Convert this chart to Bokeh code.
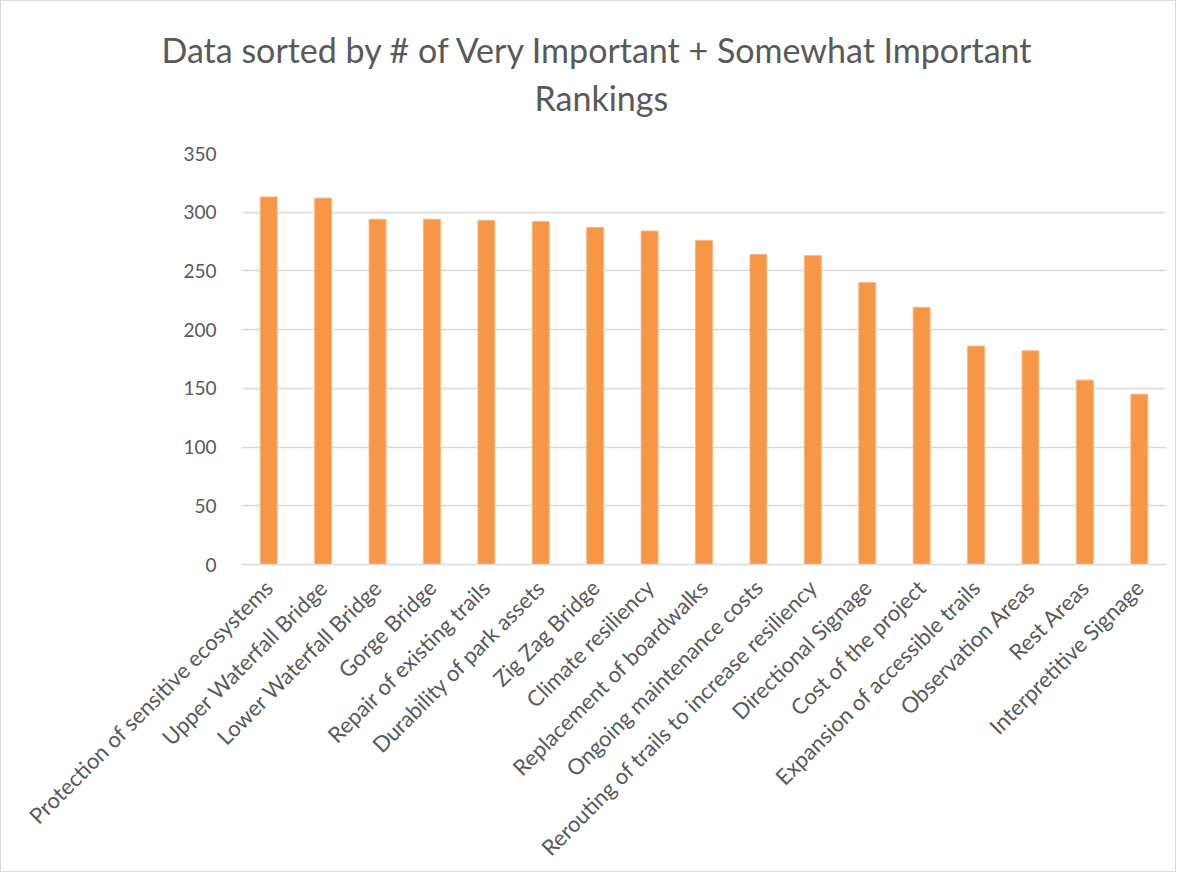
import math
from bokeh.plotting import figure
from bokeh.models import Range1d, Title, FactorRange
from bokeh.embed import file_html
from bokeh.resources import INLINE

categories = [
    "Protection of sensitive ecosystems", "Upper Waterfall Bridge", "Lower Waterfall Bridge",
    "Gorge Bridge", "Repair of existing trails", "Durability of park assets", "Zig Zag Bridge",
    "Climate resiliency", "Replacement of boardwalks", "Ongoing maintenance costs",
    "Rerouting of trails to increase resiliency", "Directional Signage", "Cost of the project",
    "Expansion of accessible trails", "Observation Areas", "Rest Areas", "Interpretitive Signage",
]
values = [313, 312, 294, 294, 293, 292, 287, 284, 276, 264, 263, 240, 219, 186, 182, 157, 145]
y_ticks = [0, 50, 100, 150, 200, 250, 300, 350]

FONT = "Lato"
GREY = "#595959"

p = figure(width=1176, height=872, x_range=FactorRange(*categories, range_padding=0),
           y_range=Range1d(0, 350), output_backend="svg", toolbar_location=None,
           min_border_left=240, min_border_right=11, min_border_top=152, min_border_bottom=308)
p.title = None
# spacer between the title block and the plot frame
p.add_layout(Title(text=" ", text_font_size="1px", standoff=30), "above")
p.add_layout(Title(text="Rankings", align="left", text_font=FONT, text_font_size="34px",
                   text_font_style="normal", text_color=GREY, offset=293, standoff=5), "above")
p.add_layout(Title(text="Data sorted by # of Very Important + Somewhat Important", align="left",
                   text_font=FONT, text_font_size="34px", text_font_style="normal",
                   text_color=GREY, offset=-80, standoff=5), "above")

p.vbar(x=categories, top=values, width=0.31, fill_color="#F79646", line_color="#F9B583", line_width=1)

p.outline_line_color = None
p.styles = {"border": "1px solid #D9D9D9"}
p.xgrid.grid_line_color = None
p.ygrid.grid_line_color = "#D9D9D9"
p.ygrid.grid_line_width = 1.5
p.yaxis.ticker = y_ticks
p.yaxis.axis_line_color = None
p.yaxis.major_tick_line_color = None
p.yaxis.minor_tick_line_color = None
p.yaxis.major_label_text_font = FONT
p.yaxis.major_label_text_font_size = "19px"
p.yaxis.major_label_text_color = GREY
p.yaxis.major_label_standoff = 19

p.xaxis.axis_line_color = "#D9D9D9"
p.xaxis.axis_line_width = 1.5
p.xaxis.major_tick_line_color = None
p.xaxis.minor_tick_line_color = None
p.xaxis.major_label_orientation = math.pi / 4
p.xaxis.major_label_text_font = FONT
p.xaxis.major_label_text_font_size = "22px"
p.xaxis.major_label_text_color = GREY
p.xaxis.major_label_standoff = 13

open("out.html", "w").write(file_html(p, INLINE))
